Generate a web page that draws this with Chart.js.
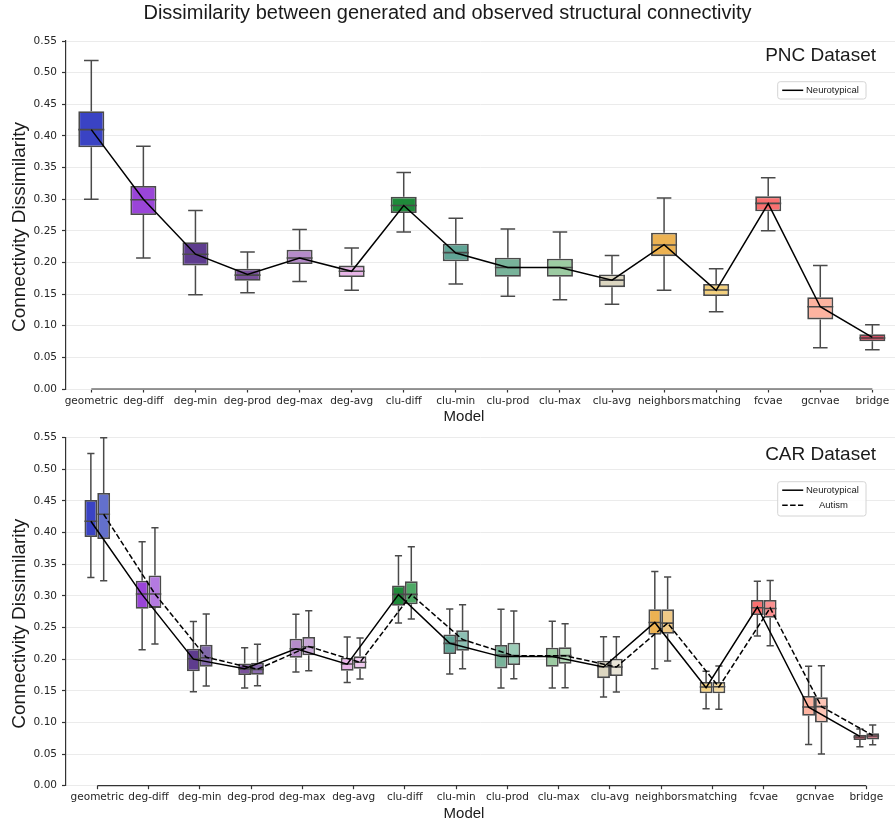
<!DOCTYPE html>
<html>
<head>
<meta charset="utf-8">
<title>Dissimilarity between generated and observed structural connectivity</title>
<script src="https://cdn.jsdelivr.net/npm/chart.js@4.4.1/dist/chart.umd.min.js"></script>
<style>
  body { margin: 0; background: #fff; }
  #wrap { position: relative; width: 895px; height: 825px; overflow: hidden; }
  canvas { position: absolute; left: 0; }
  #pnc { top: 0; }
  #car { top: 426px; }
  #title { position: absolute; left: 0; top: 1px; width: 895px; text-align: center;
           font: 20px "Liberation Sans", Arial, sans-serif; color: #1a1a1a; }
</style>
</head>
<body>
<div id="wrap">
  <canvas id="pnc" width="895" height="426"></canvas>
  <canvas id="car" width="895" height="399"></canvas>
  <div id="title">Dissimilarity between generated and observed structural connectivity</div>
</div>
<script>
const models = ['geometric', 'deg-diff', 'deg-min', 'deg-prod', 'deg-max', 'deg-avg', 'clu-diff', 'clu-min',
  'clu-prod', 'clu-max', 'clu-avg', 'neighbors', 'matching', 'fcvae', 'gcnvae', 'bridge'];
const yTicks = [0, 0.05, 0.10, 0.15, 0.20, 0.25, 0.30, 0.35, 0.40, 0.45, 0.50, 0.55];

// PNC dataset (neurotypical only)
const pncLow  = [0.300, 0.207, 0.149, 0.152, 0.170, 0.156, 0.248, 0.166, 0.1465, 0.141, 0.134, 0.156, 0.122, 0.250, 0.065, 0.062];
const pncQ1   = [0.382, 0.275, 0.195, 0.171, 0.1975, 0.177, 0.278, 0.202, 0.1775, 0.1775, 0.161, 0.210, 0.147, 0.281, 0.110, 0.0753];
const pncMed  = [0.410, 0.299, 0.213, 0.180, 0.207, 0.186, 0.290, 0.2155, 0.192, 0.192, 0.172, 0.2276, 0.1565, 0.2934, 0.130, 0.0806];
const pncQ3   = [0.439, 0.321, 0.232, 0.190, 0.220, 0.195, 0.304, 0.2297, 0.2076, 0.206, 0.181, 0.247, 0.166, 0.3045, 0.145, 0.0864];
const pncHigh = [0.519, 0.3835, 0.282, 0.2165, 0.252, 0.223, 0.342, 0.270, 0.253, 0.248, 0.211, 0.302, 0.190, 0.334, 0.195, 0.1017];
const pncMean = [0.410, 0.300, 0.213, 0.181, 0.207, 0.186, 0.290, 0.215, 0.192, 0.192, 0.172, 0.228, 0.156, 0.293, 0.130, 0.0817];

// CAR dataset, neurotypical
const ntLow  = [0.329, 0.215, 0.1486, 0.1544, 0.1796, 0.1633, 0.257, 0.1765, 0.1544, 0.1544, 0.140, 0.185, 0.1217, 0.2365, 0.0653, 0.0616];
const ntQ1   = [0.393, 0.2797, 0.1807, 0.175, 0.2023, 0.1817, 0.2845, 0.208, 0.1854, 0.188, 0.170, 0.2386, 0.146, 0.2697, 0.1106, 0.0722];
const ntMed  = [0.418, 0.303, 0.2007, 0.1844, 0.2165, 0.1923, 0.3024, 0.225, 0.2065, 0.204, 0.188, 0.258, 0.156, 0.2813, 0.1243, 0.0769];
const ntQ3   = [0.4515, 0.324, 0.2165, 0.1933, 0.2323, 0.2023, 0.3166, 0.239, 0.2223, 0.218, 0.1976, 0.279, 0.1638, 0.2934, 0.1417, 0.0806];
const ntHigh = [0.525, 0.3856, 0.2597, 0.218, 0.2708, 0.235, 0.3635, 0.2792, 0.279, 0.260, 0.2355, 0.3387, 0.1807, 0.323, 0.1886, 0.0896];
const ntMean = [0.418, 0.302, 0.200, 0.185, 0.2165, 0.192, 0.302, 0.225, 0.204, 0.204, 0.1876, 0.258, 0.155, 0.2824, 0.124, 0.078];

// CAR dataset, autism
const auLow  = [0.324, 0.224, 0.1575, 0.158, 0.1817, 0.1686, 0.2634, 0.185, 0.169, 0.155, 0.148, 0.197, 0.121, 0.2213, 0.050, 0.0648];
const auQ1   = [0.390, 0.281, 0.188, 0.1754, 0.206, 0.185, 0.2866, 0.2134, 0.1907, 0.1928, 0.1733, 0.240, 0.146, 0.2655, 0.100, 0.0732];
const auMed  = [0.429, 0.303, 0.2023, 0.1839, 0.2197, 0.195, 0.3024, 0.229, 0.2055, 0.2055, 0.1876, 0.257, 0.1565, 0.280, 0.1249, 0.0785];
const auQ3   = [0.4625, 0.3324, 0.2228, 0.1944, 0.235, 0.2044, 0.323, 0.2455, 0.226, 0.219, 0.2007, 0.2787, 0.1638, 0.2934, 0.1396, 0.0827];
const auHigh = [0.550, 0.4078, 0.2713, 0.2234, 0.2766, 0.2334, 0.3777, 0.286, 0.276, 0.256, 0.2355, 0.330, 0.189, 0.3245, 0.1897, 0.0959];
const auMean = [0.429, 0.303, 0.203, 0.184, 0.220, 0.195, 0.302, 0.231, 0.2055, 0.2055, 0.1876, 0.257, 0.156, 0.281, 0.125, 0.0795];

const ntColors = ['#3a43c4', '#9a45d8', '#5e3c8e', '#7a519c', '#b58bc9', '#e8b5e8', '#1f8a3a', '#60a596',
  '#78b39a', '#9ccba2', '#dcd6c0', '#ecb252', '#f3d07e', '#fa7070', '#fdb3a0', '#d4203f'];
const auColors = ['#6370cc', '#b47ae0', '#8068a8', '#8a6cae', '#c8a8d6', '#efc9ef', '#4ea865', '#8cbfb3',
  '#9ccdb8', '#b5d9b9', '#e8e4d6', '#f0c986', '#f4d99c', '#fb8f8f', '#fdc4b5', '#e0546c'];

const edge = '#4a4a4a';
const tickFont = { family: 'DejaVu Sans', size: 10.5 };

// whiskers behind the boxes, medians right after each box dataset
const boxPlugin = {
  id: 'boxes',
  beforeDatasetsDraw(chart) {
    const ctx = chart.ctx, y = chart.scales.y;
    chart.data.datasets.forEach((ds, i) => {
      if (!ds.low) return;
      ctx.save();
      ctx.strokeStyle = edge;
      ctx.lineWidth = 1.5;
      chart.getDatasetMeta(i).data.forEach((bar, j) => {
        const cap = bar.width * 0.28;
        const yq1 = y.getPixelForValue(ds.data[j].y[0]);
        const yq3 = y.getPixelForValue(ds.data[j].y[1]);
        const yLo = y.getPixelForValue(ds.low[j]);
        const yHi = y.getPixelForValue(ds.high[j]);
        ctx.beginPath();
        ctx.moveTo(bar.x, yq3); ctx.lineTo(bar.x, yHi);
        ctx.moveTo(bar.x - cap, yHi); ctx.lineTo(bar.x + cap, yHi);
        ctx.moveTo(bar.x, yq1); ctx.lineTo(bar.x, yLo);
        ctx.moveTo(bar.x - cap, yLo); ctx.lineTo(bar.x + cap, yLo);
        ctx.stroke();
      });
      ctx.restore();
    });
  },
  afterDatasetDraw(chart, args) {
    const ds = chart.data.datasets[args.index];
    if (!ds.med) return;
    const ctx = chart.ctx, y = chart.scales.y;
    ctx.save();
    ctx.strokeStyle = edge;
    ctx.lineWidth = 1.6;
    ctx.beginPath();
    args.meta.data.forEach((bar, j) => {
      const ym = y.getPixelForValue(ds.med[j]);
      ctx.moveTo(bar.x - bar.width / 2, ym);
      ctx.lineTo(bar.x + bar.width / 2, ym);
    });
    ctx.stroke();
    ctx.restore();
  }
};

// trimmed bottom spine, panel name, legend, axis titles
const decorPlugin = {
  id: 'decor',
  afterDraw(chart, args, o) {
    const { ctx, chartArea: a, scales: { x } } = chart;
    ctx.save();
    ctx.strokeStyle = '#333';
    ctx.lineWidth = 1.2;
    ctx.beginPath();
    ctx.moveTo(x.getPixelForValue(0), a.bottom);
    ctx.lineTo(x.getPixelForValue(models.length - 1), a.bottom);
    ctx.stroke();

    ctx.fillStyle = '#1a1a1a';
    ctx.font = '19px "Liberation Sans", Arial, sans-serif';
    ctx.textAlign = 'right';
    ctx.textBaseline = 'alphabetic';
    ctx.fillText(o.name, a.right - 19, a.top + o.nameY);

    // legend box
    const lx = a.right - 117.3, ly = a.top + o.legendTop, lh = o.legendH;
    ctx.beginPath();
    ctx.roundRect(lx, ly, 88.3, lh, 2.5);
    ctx.fillStyle = 'rgba(255,255,255,0.85)';
    ctx.fill();
    ctx.strokeStyle = '#d4d4d4';
    ctx.lineWidth = 1;
    ctx.stroke();
    ctx.font = '9.5px "Liberation Sans", Arial, sans-serif';
    ctx.textAlign = 'left';
    ctx.textBaseline = 'middle';
    o.items.forEach((it, k) => {
      const ry = ly + o.rowY[k];
      ctx.strokeStyle = '#000';
      ctx.lineWidth = 1.5;
      ctx.setLineDash(it.dash);
      ctx.beginPath();
      ctx.moveTo(lx + 4.5, ry);
      ctx.lineTo(lx + 25.5, ry);
      ctx.stroke();
      ctx.setLineDash([]);
      ctx.fillStyle = '#1a1a1a';
      ctx.fillText(it.label, lx + it.textX, ry);
    });

    // axis titles
    ctx.fillStyle = '#1a1a1a';
    ctx.font = '15px "Liberation Sans", Arial, sans-serif';
    ctx.textAlign = 'center';
    ctx.fillText('Model', a.left + 398, a.bottom + 28);
    ctx.font = '19px "Liberation Sans", Arial, sans-serif';
    ctx.translate(19.5, (a.top + a.bottom) / 2 + 12);
    ctx.rotate(-Math.PI / 2);
    ctx.fillText('Connectivity Dissimilarity', 0, 0);
    ctx.restore();
  }
};

function boxSet(q1, q3, low, med, high, colors) {
  return {
    type: 'bar',
    data: q1.map((q, i) => ({ x: i, y: [q, q3[i]] })),
    low: low, med: med, high: high,
    backgroundColor: colors,
    borderColor: edge,
    borderWidth: 1.8,
    borderSkipped: false,
    categoryPercentage: 0.5,
    barPercentage: 1,
    order: 2
  };
}

function meanSet(mean, shift, dash) {
  return {
    type: 'line',
    data: mean.map((v, i) => ({ x: i + shift, y: v })),
    borderColor: '#000',
    borderWidth: 1.5,
    borderDash: dash,
    pointRadius: 0,
    tension: 0,
    fill: false,
    order: 0
  };
}

function makePanel(id, datasets, xMin, xMax, padTop, axisH, decor) {
  return new Chart(document.getElementById(id), {
    type: 'bar',
    data: { datasets: datasets },
    plugins: [boxPlugin, decorPlugin],
    options: {
      responsive: false,
      animation: false,
      events: [],
      layout: { padding: { top: padTop, left: 0, right: 0, bottom: 0 } },
      plugins: { legend: { display: false }, tooltip: { enabled: false }, decor: decor },
      scales: {
        x: {
          type: 'linear', min: xMin, max: xMax, offset: false,
          afterFit: s => { s.height = axisH; },
          afterBuildTicks: s => { s.ticks = models.map((m, i) => ({ value: i })); },
          ticks: { callback: (v, i) => models[i], autoSkip: false, maxRotation: 0, minRotation: 0,
                   font: tickFont, color: '#262626', padding: 2 },
          grid: { offset: false, drawOnChartArea: false, drawTicks: true, tickLength: 3.5, tickColor: '#333', tickWidth: 1.2 },
          border: { display: false }
        },
        y: {
          min: 0, max: 0.55,
          afterFit: s => { s.width = 66; },
          afterBuildTicks: s => { s.ticks = yTicks.map(v => ({ value: v })); },
          ticks: { callback: v => v.toFixed(2), font: tickFont, color: '#262626', padding: 5 },
          grid: { color: '#ebebeb', lineWidth: 1, tickColor: '#333', tickLength: 4, tickWidth: 1.2 },
          border: { display: true, color: '#333', width: 1.2 }
        }
      }
    }
  });
}

makePanel('pnc', [
  boxSet(pncQ1, pncQ3, pncLow, pncMed, pncHigh, ntColors),
  meanSet(pncMean, 0, [])
], -0.486, 15.435, 41, 37, {
  name: 'PNC Dataset', nameY: 20, legendTop: 40.7, legendH: 17.3, rowY: [8.6],
  items: [{ label: 'Neurotypical', dash: [], textX: 28.3 }]
});

makePanel('car', [
  boxSet(ntQ1, ntQ3, ntLow, ntMed, ntHigh, ntColors),
  boxSet(auQ1, auQ3, auLow, auMed, auHigh, auColors),
  meanSet(ntMean, -0.125, []),
  meanSet(auMean, 0.125, [5.5, 2.4])
], -0.61, 15.56, 11.7, 39.3, {
  name: 'CAR Dataset', nameY: 22.3, legendTop: 44, legendH: 34.3, rowY: [8.5, 23.5],
  items: [{ label: 'Neurotypical', dash: [], textX: 28.3 }, { label: 'Autism', dash: [5.5, 2.4], textX: 41.3 }]
});
</script>
</body>
</html>
